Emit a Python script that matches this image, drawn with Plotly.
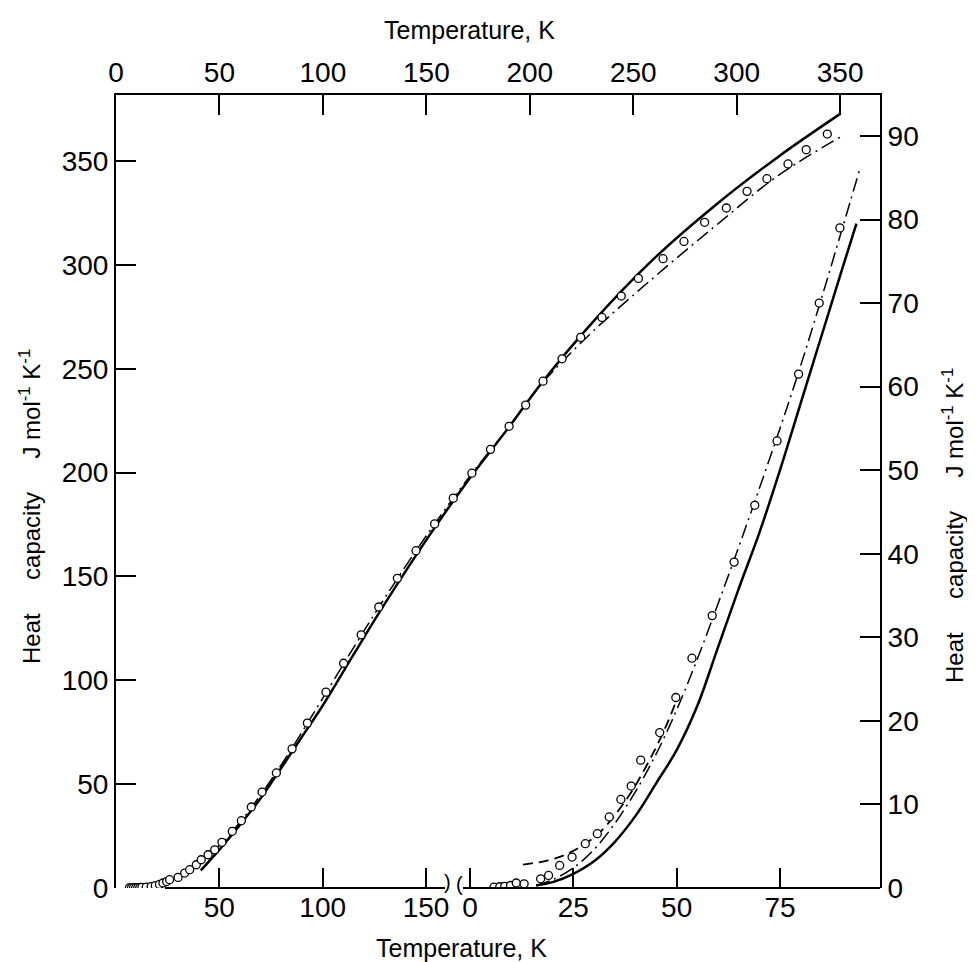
import plotly.graph_objects as go

# ---------------- data ----------------
# Main curve (top temperature axis, left heat-capacity axis)
main_circ_T = [6.5, 7.5, 8.5, 9.5, 10.5, 11.5, 12.5, 14.6, 17, 19, 21, 22.7, 24.5, 25.9, 30.0,
               33.2, 35.6, 38.8, 41.2, 44.5, 47.7, 51.2, 56.2, 60.6, 65.4, 70.6, 77.5, 85.1, 92.5,
               101.5, 110, 118.5, 127, 136, 145, 154, 163, 172, 181, 190, 198,
               206.4, 215.6, 224.6, 234.9, 244.2, 252.5, 264.4, 274.5, 284.5, 295, 305, 314.6,
               324.8, 333.6, 343.8]
main_circ_C = [0.1, 0.1, 0.15, 0.2, 0.2, 0.25, 0.3, 0.4, 0.7, 1.1, 1.7, 2.4, 3.1, 4.0, 5.1,
               7.2, 8.8, 11.2, 13.6, 16.0, 18.4, 22.0, 27.3, 32.4, 39.0, 46.2, 55.4, 67.0, 79.4,
               94.3, 108.2, 121.9, 135.3, 149.1, 162.4, 175.3, 187.7, 199.7, 211.2, 222.3, 232.5,
               244.0, 254.8, 265.1, 274.7, 285.0, 293.5, 303.0, 311.3, 320.5, 327.4, 335.4, 341.5,
               348.6, 355.5, 363.0]

main_solid_T = [41, 50, 60, 70, 80, 90, 100, 115, 130, 150, 170, 190, 206, 230, 260, 290, 320, 350]
main_solid_C = [8.5, 18.5, 30.5, 43.3, 58, 73, 88, 112.7, 137, 167.6, 196, 222, 243.5, 272, 303, 329, 352, 372.7]

main_dd_T = [38, 50, 60, 70, 80, 92, 100, 115, 130, 150, 170, 190, 206, 230, 260, 290, 320, 350]
main_dd_C = [11.5, 20.5, 31.8, 45, 59.5, 78.5, 91.5, 116, 139.8, 169.6, 197, 222, 243, 267.5, 294, 319, 343, 361.5]

# Low-temperature inset (bottom-right temperature axis, right heat-capacity axis)
inset_circ_T = [5.8, 7.2, 8.4, 9.8, 11.2, 13.1, 17.1, 19.0, 21.7, 24.7, 27.9, 30.8, 33.7, 36.5,
                39.0, 41.3, 45.9, 49.8, 53.7, 58.6, 63.9, 68.9, 74.3, 79.5, 84.5, 89.5]
inset_circ_C = [0.1, 0.15, 0.2, 0.3, 0.6, 0.5, 1.1, 1.5, 2.7, 3.7, 5.3, 6.5, 8.5, 10.6,
                12.2, 15.3, 18.6, 22.8, 27.5, 32.6, 39.0, 45.8, 53.5, 61.5, 70.0, 79.0]

inset_solid_T = [16, 20, 25, 30, 35, 40, 45, 50, 55, 60, 65, 70, 75, 80, 85, 90, 93.5]
inset_solid_C = [0.3, 0.7, 1.7, 3.2, 5.5, 8.6, 12.5, 16.5, 21.8, 28.8, 35.8, 42.5, 50, 58, 66, 74, 79.5]

inset_dd_T = [16, 20, 25, 30, 35, 40, 45, 50, 55, 60, 65, 70, 75, 80, 85, 90, 94.3]
inset_dd_C = [0.3, 1.0, 2.4, 4.6, 7.7, 11.5, 16, 21.3, 27.4, 34, 40.8, 47.8, 55, 62.5, 70.5, 78.8, 86]

inset_dash_T = [12.8, 18.9, 22.9, 26.9, 31, 35, 39, 43.1, 47.1, 50]
inset_dash_C = [2.8, 3.3, 3.95, 5.0, 6.46, 8.7, 11.45, 15.0, 19.0, 22.5]

top_ticks = [0, 50, 100, 150, 200, 250, 300, 350]
left_ticks = [0, 50, 100, 150, 200, 250, 300, 350]
right_ticks = [0, 10, 20, 30, 40, 50, 60, 70, 80, 90]
bottom_left_ticks = [50, 100, 150]
bottom_right_ticks = [0, 25, 50, 75]

# ---------------- figure ----------------
FONT = "Liberation Sans, Arial, sans-serif"
W, H = 975, 962
L, R, T, B = 108, 103, 87, 82
PW = W - L - R
PH = H - T - B


def px2paper_x(px):
    return (px - L) / PW


def px2paper_y(py):
    return (H - B - py) / PH


fig = go.Figure()
line_col = "black"
DASHDOT = "14px,5px,2px,5px"
circ_marker = dict(symbol="circle", size=8, color="white", line=dict(color=line_col, width=1.3))

fig.add_trace(go.Scatter(x=main_dd_T, y=main_dd_C, mode="lines", line_shape="spline",
                         line=dict(color=line_col, width=1.5, dash=DASHDOT),
                         xaxis="x", yaxis="y", showlegend=False, hoverinfo="skip"))
fig.add_trace(go.Scatter(x=main_solid_T, y=main_solid_C, mode="lines", line_shape="spline",
                         line=dict(color=line_col, width=2.5),
                         xaxis="x", yaxis="y", showlegend=False, hoverinfo="skip"))
fig.add_trace(go.Scatter(x=main_circ_T, y=main_circ_C, mode="markers", marker=circ_marker,
                         xaxis="x", yaxis="y", showlegend=False))

fig.add_trace(go.Scatter(x=inset_dd_T, y=inset_dd_C, mode="lines", line_shape="spline",
                         line=dict(color=line_col, width=1.5, dash=DASHDOT),
                         xaxis="x4", yaxis="y2", showlegend=False, hoverinfo="skip"))
fig.add_trace(go.Scatter(x=inset_dash_T, y=inset_dash_C, mode="lines", line_shape="spline",
                         line=dict(color=line_col, width=1.8, dash="10px,6px"),
                         xaxis="x4", yaxis="y2", showlegend=False, hoverinfo="skip"))
fig.add_trace(go.Scatter(x=inset_solid_T, y=inset_solid_C, mode="lines", line_shape="spline",
                         line=dict(color=line_col, width=2.5),
                         xaxis="x4", yaxis="y2", showlegend=False, hoverinfo="skip"))
fig.add_trace(go.Scatter(x=inset_circ_T, y=inset_circ_C, mode="markers", marker=circ_marker,
                         xaxis="x4", yaxis="y2", showlegend=False))
# empty trace so the bottom-left temperature axis is drawn
fig.add_trace(go.Scatter(x=[], y=[], xaxis="x3", yaxis="y", showlegend=False))

tickfont = dict(family=FONT, size=28, color="black")
common = dict(showgrid=False, zeroline=False, linecolor="black", linewidth=2,
              ticks="inside", ticklen=20, tickwidth=1.5, tickcolor="black", tickfont=tickfont)

top_max = PW / 2.069
left_max = PH / 2.077
right_max = PH / 8.356
x4_zero_px, x4_scale = 462, 4.133

fig.update_layout(
    width=W, height=H, margin=dict(l=L, r=R, t=T, b=B),
    paper_bgcolor="white", plot_bgcolor="white",
    xaxis=dict(domain=[0, 1], range=[0, top_max], side="top", anchor="y", showline=True,
               tickvals=top_ticks, **common),
    yaxis=dict(domain=[0, 1], range=[0, left_max], anchor="x", side="left", showline=True,
               tickvals=left_ticks, **common),
    yaxis2=dict(range=[0, right_max], anchor="x", side="right", overlaying="y", showline=True,
                tickvals=right_ticks, **common),
    xaxis3=dict(range=[0, PW / 2.067], side="bottom", anchor="y", overlaying="x",
                showline=False, tickvals=bottom_left_ticks, **common),
    xaxis4=dict(range=[(L - x4_zero_px) / x4_scale, (L + PW - x4_zero_px) / x4_scale],
                side="bottom", anchor="y2", overlaying="x", showline=False,
                tickvals=bottom_right_ticks, **common),
)

# bottom axis line segments (broken axis)
shapes = [
    dict(type="line", xref="paper", yref="paper", x0=px2paper_x(157), x1=px2paper_x(437),
         y0=0, y1=0, line=dict(color="black", width=2)),
    dict(type="line", xref="paper", yref="paper", x0=px2paper_x(455), x1=1,
         y0=0, y1=0, line=dict(color="black", width=2)),
]
fig.update_layout(shapes=shapes)

title_font = dict(family=FONT, size=25, color="black")
ytitle_font = dict(family=FONT, size=24, color="black")
g = "\u00a0" * 5
ytitle = "Heat" + g + "capacity" + g + "J\u00a0mol<sup>-1</sup>\u00a0K<sup>-1</sup>"
annotations = [
    dict(text="Temperature, K", x=px2paper_x(461), y=px2paper_y(22), xref="paper", yref="paper",
         showarrow=False, font=title_font, xanchor="center", yanchor="middle"),
    dict(text="Temperature, K", x=px2paper_x(453), y=px2paper_y(940), xref="paper", yref="paper",
         showarrow=False, font=title_font, xanchor="center", yanchor="middle"),
    dict(text=ytitle, x=px2paper_x(22), y=px2paper_y(499), xref="paper", yref="paper",
         textangle=-90, showarrow=False, font=ytitle_font, xanchor="center", yanchor="middle"),
    dict(text=ytitle, x=px2paper_x(945), y=px2paper_y(518), xref="paper", yref="paper",
         textangle=-90, showarrow=False, font=ytitle_font, xanchor="center", yanchor="middle"),
    dict(text=")", x=px2paper_x(439), y=px2paper_y(874), xref="paper", yref="paper",
         showarrow=False, font=dict(family=FONT, size=20, color="black"),
         xanchor="center", yanchor="middle"),
    dict(text="(", x=px2paper_x(451), y=px2paper_y(876), xref="paper", yref="paper",
         showarrow=False, font=dict(family=FONT, size=20, color="black"),
         xanchor="center", yanchor="middle"),
]
fig.update_layout(annotations=annotations)

fig.write_html("out.html")
